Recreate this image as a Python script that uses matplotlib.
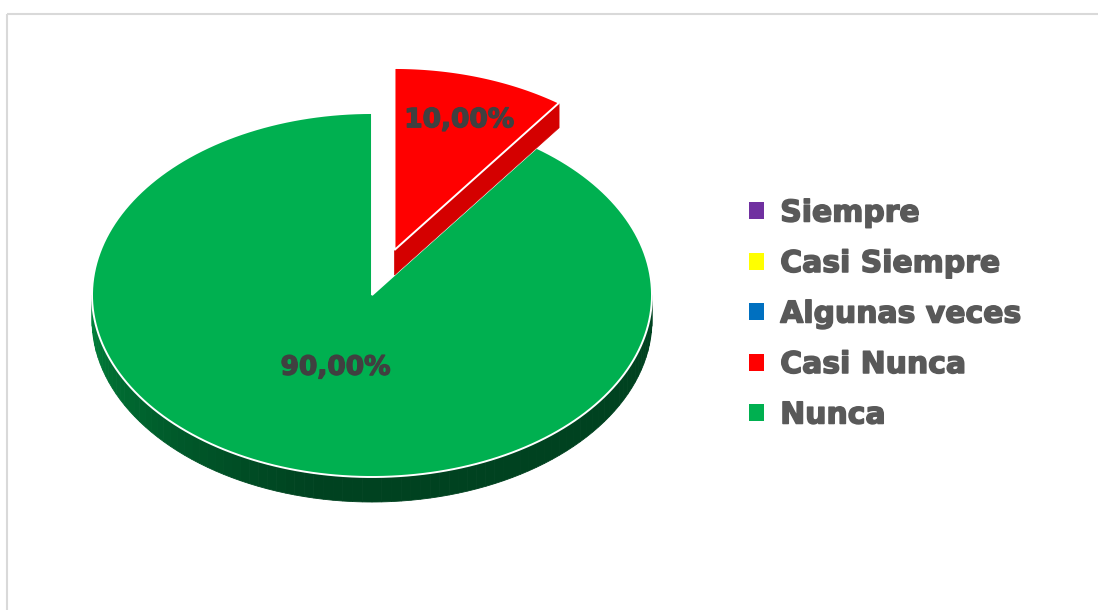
import matplotlib.pyplot as plt
import numpy as np
from matplotlib.patches import Polygon, Patch, Rectangle
from matplotlib.colors import to_rgb
import matplotlib.patheffects as pe

# Data
categories = ['Siempre', 'Casi Siempre', 'Algunas veces', 'Casi Nunca', 'Nunca']
values = [0, 0, 0, 10, 90]
colors = ['#7030A0', '#FFFF00', '#0070C0', '#FF0000', '#00B050']
side_colors = ['#4b1f6b', '#b3b300', '#004d86', '#d40000', '#004220']
explode = [0, 0, 0, 0.26, 0]
label_r = [0.6, 0.6, 0.6, 0.75, 0.42]

fig = plt.figure(figsize=(10.98, 6.10), dpi=100)
ax = fig.add_axes([0, 0, 1, 1])
ax.set_xlim(0, 1098)
ax.set_ylim(610, 0)
ax.axis('off')

# chart frame
ax.add_patch(Rectangle((7, 14), 1200, 700, fill=False, ec='#d9d9d9', lw=1.5))

# pseudo-3D pie geometry (pixels)
cx, cy = 372, 295
rx, ry = 280, 182
depth = 25


def rim(t, ox=0, oy=0, dz=0):
    t = np.radians(t)
    return np.column_stack([cx + ox + rx * np.sin(t), cy + oy - ry * np.cos(t) + dz])


total = sum(values)
start = 0.0
slices = []
for i, v in enumerate(values):
    if v == 0:
        continue
    a0, a1 = start, start + 360 * v / total
    mid = np.radians((a0 + a1) / 2)
    ox = explode[i] * rx * np.sin(mid)
    oy = -explode[i] * ry * np.cos(mid)
    slices.append((i, a0, a1, ox, oy))
    start = a1

# draw the slices from back to front
order = sorted(slices, key=lambda s: s[4], reverse=True)
for i, a0, a1, ox, oy in order:
    # outer side wall (only front half visible: 90..270)
    lo, hi = max(a0, 90), min(a1, 270)
    if hi > lo:
        n = 90
        ts = np.linspace(lo, hi, n + 1)
        dark = np.array(to_rgb(side_colors[i]))
        light = np.array(to_rgb(colors[i])) * 0.75
        for k in range(n):
            seg = np.linspace(ts[k], ts[k + 1], 3)
            top = rim(seg, ox, oy)
            bot = rim(seg[::-1], ox, oy, depth)
            tt = (ts[k] - 90) / 180
            w = max(0, (tt - 0.55) / 0.45) ** 1.2
            c = dark * (1 - w) + light * w
            ax.add_patch(Polygon(np.vstack([top, bot]), closed=True,
                                 fc=c, ec=c, lw=0.6))
    # radial cut face at the clockwise end, visible when it points to upper right
    apex = np.array([cx + ox, cy + oy])
    if 0 < a1 % 360 < 90:
        p = rim([a1], ox, oy)[0]
        face = np.array([apex, p, p + [0, depth], apex + [0, depth]])
        ax.add_patch(Polygon(face, closed=True, fc=side_colors[i],
                             ec=side_colors[i], lw=0.5))
    # top face
    arc = rim(np.linspace(a0, a1, 200), ox, oy)
    ax.add_patch(Polygon(np.vstack([apex, arc]), closed=True,
                         fc=colors[i], ec='white', lw=1.4))

heavy = [pe.withStroke(linewidth=1.0, foreground='#404040')]

# data labels
for i, a0, a1, ox, oy in slices:
    mid = np.radians((a0 + a1) / 2)
    r = label_r[i]
    x = cx + ox + r * rx * np.sin(mid)
    y = cy + oy - r * ry * np.cos(mid)
    ax.text(x, y, f'{values[i]:.2f}%'.replace('.', ','), ha='center', va='center',
            fontsize=19, fontweight='bold', color='#404040', family='DejaVu Sans',
            path_effects=heavy)

# legend
handles = [Patch(fc=c, ec='none') for c in colors]
leg = ax.legend(handles, categories, loc='center left',
                bbox_to_anchor=(722 / 1098, 1 - 314 / 610), bbox_transform=fig.transFigure,
                frameon=False, handlelength=0.5, handleheight=0.5,
                handletextpad=0.55, labelspacing=0.72,
                prop={'family': 'DejaVu Sans', 'weight': 'bold', 'size': 21.5})
for t in leg.get_texts():
    t.set_color('#595959')
    t.set_path_effects([pe.withStroke(linewidth=1.1, foreground='#595959')])

plt.savefig('out.png', dpi=100)
